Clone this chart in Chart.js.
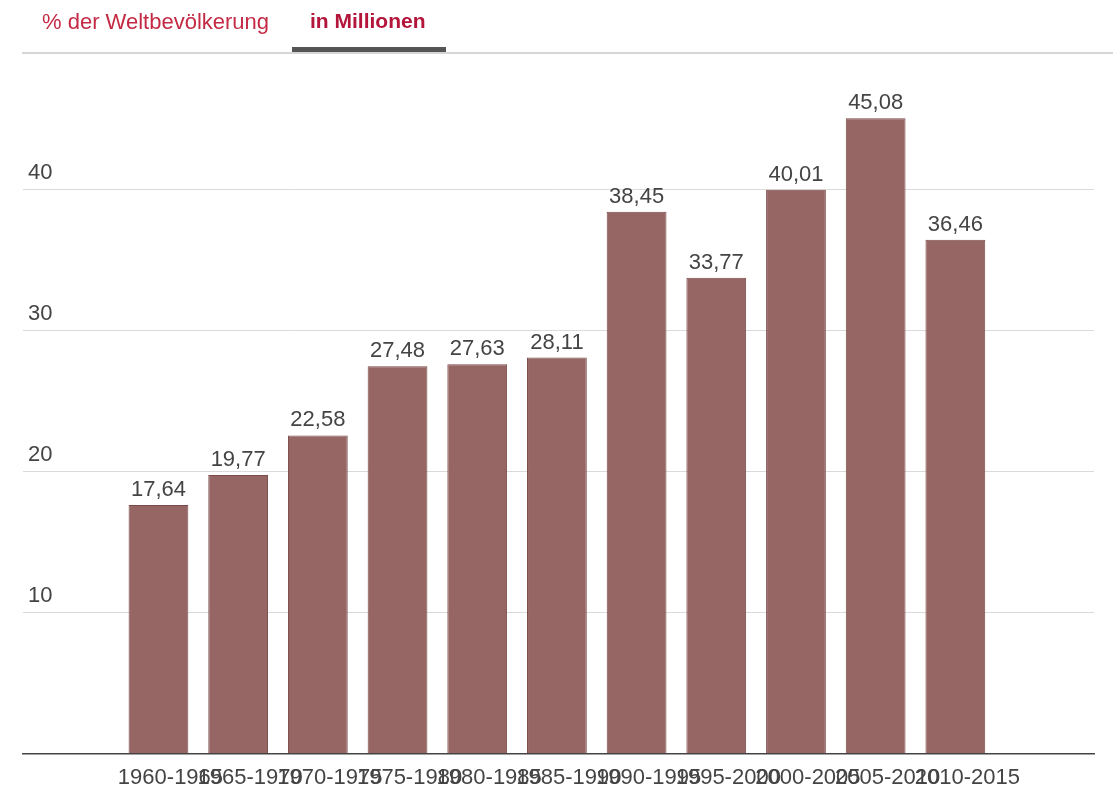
<!DOCTYPE html>
<html>
<head>
<meta charset="utf-8">
<script src="https://cdn.jsdelivr.net/npm/chart.js@4"></script>
<style>
  body { margin: 0; background: #fff; font-family: Arial, "Liberation Sans", sans-serif; overflow: hidden; }
  .wrap { position: relative; width: 1113px; height: 788px; overflow: hidden; }
  .box { position: absolute; left: 0; top: 0; width: 1113px; height: 802px; }
  .tabs { position: absolute; left: 22px; right: 0; top: 0; height: 52px; border-bottom: 2px solid #d6d6d6; }
  .tab { position: absolute; top: 9px; font-size: 22px; color: #c42a44; }
  .tab.active { font-weight: bold; color: #b3163a; font-size: 21px; }
  .tab.active::after { content: ''; position: absolute; left: -18px; right: -20px; top: 38px; height: 5px; background: #555; }
</style>
</head>
<body>
<div class="wrap">
  <div class="box"><canvas id="barchart"></canvas></div>
  <div class="tabs">
    <span class="tab" style="left:20px">% der Weltbevölkerung</span>
    <span class="tab active" style="left:288px">in Millionen</span>
  </div>
</div>
<script>
const periods = ['1960-1965', '1965-1970', '1970-1975', '1975-1980', '1980-1985', '1985-1990',
    '1990-1995', '1995-2000', '2000-2005', '2005-2010', '2010-2015']
const millions = [17.64, 19.77, 22.58, 27.48, 27.63, 28.11, 38.45, 33.77, 40.01, 45.08, 36.46]
const yTicks = [10, 20, 30, 40]

const fmt = v => v.toFixed(2).replace('.', ',')

// values above bars
const barLabels = {
    id: 'barLabels',
    afterDatasetsDraw(chart) {
        const c = chart.ctx
        c.save()
        c.font = '22px Arial, "Liberation Sans", sans-serif'
        c.fillStyle = '#444'
        c.textAlign = 'center'
        c.textBaseline = 'middle'
        chart.getDatasetMeta(0).data.forEach((el, i) => {
            c.fillText(fmt(millions[i]), el.x, el.y - 15)
        })
        c.restore()
    }
}

const ctx = document.getElementById('barchart')
const myChart = new Chart(ctx, {
    type: 'bar',
    data: {
        datasets: [{
            label: 'in Millionen',
            data: millions.map((v, i) => ({ x: i, y: v })),
            backgroundColor: '#966664',
            borderColor: '#7a4a48',
            borderWidth: 1,
            barPercentage: 0.75,
            categoryPercentage: 1
        }]
    },
    options: {
        responsive: true,
        maintainAspectRatio: false,
        animation: false,
        layout: { padding: { left: 13, right: 19, top: 49, bottom: 0 } },
        plugins: {
            legend: { display: false },
            tooltip: { enabled: false }
        },
        scales: {
            x: {
                type: 'linear',
                offset: false,
                min: -1.7,
                max: 11.74,
                grid: { display: false, drawTicks: false },
                border: { display: true, color: '#444', width: 1.5 },
                ticks: {
                    stepSize: 1,
                    autoSkip: false,
                    maxRotation: 0,
                    minRotation: 0,
                    padding: 11,
                    labelOffset: 12,
                    color: '#444',
                    font: { family: 'Arial, "Liberation Sans", sans-serif', size: 22 },
                    callback: v => (Number.isInteger(v) && periods[v]) ? periods[v] : ''
                }
            },
            y: {
                min: 0,
                max: 50,
                border: { display: false },
                grid: {
                    drawTicks: false,
                    color: c => yTicks.includes(c.tick.value) ? '#dadada' : 'rgba(0,0,0,0)'
                },
                ticks: {
                    stepSize: 10,
                    mirror: true,
                    padding: 5,
                    labelOffset: -17,
                    color: '#444',
                    font: { family: 'Arial, "Liberation Sans", sans-serif', size: 22 },
                    callback: v => yTicks.includes(v) ? v : ''
                }
            }
        }
    },
    plugins: [barLabels]
});
</script>
</body>
</html>
